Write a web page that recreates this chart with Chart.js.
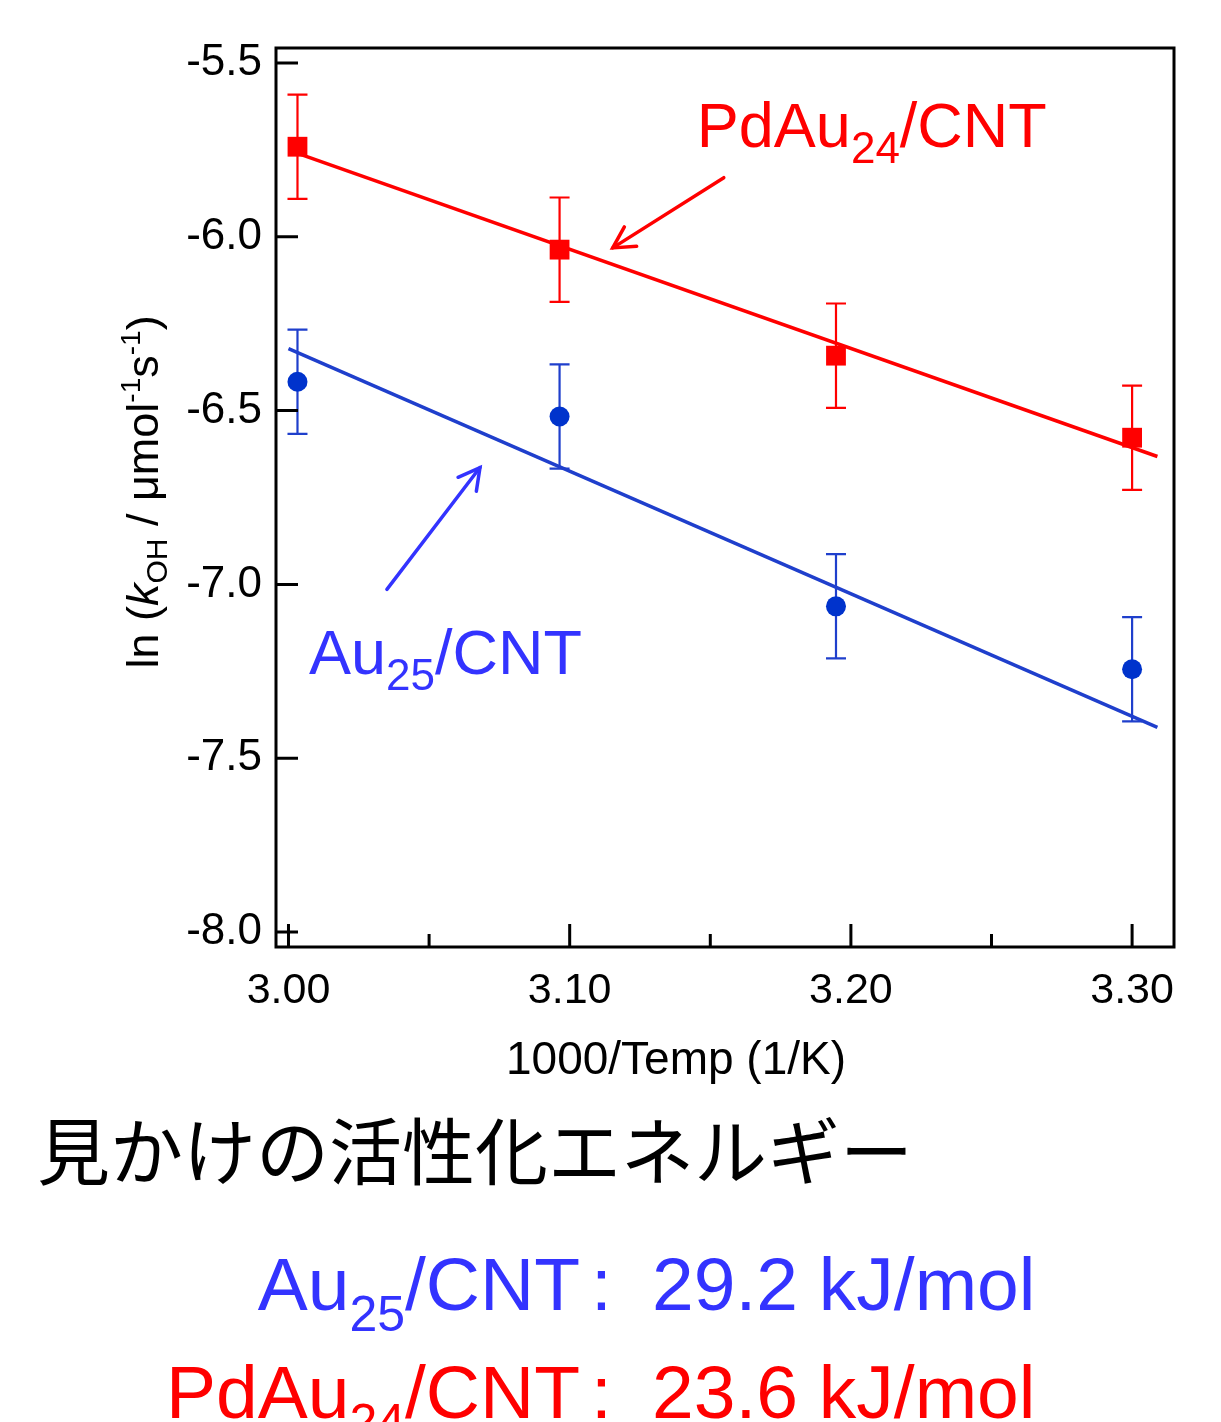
<!DOCTYPE html>
<html>
<head>
<meta charset="utf-8">
<script src="https://cdn.jsdelivr.net/npm/chart.js@4.4.1/dist/chart.umd.min.js"></script>
<style>
  html, body { margin:0; padding:0; background:#fff; }
  body { width:1221px; height:1422px; overflow:hidden; position:relative; }
  #wrap { position:absolute; left:0; top:0; width:1221px; height:1100px; }
  .t { position:absolute; white-space:nowrap; line-height:1; font-family:"Liberation Sans", Arial, sans-serif; }
  .jp { font-family:"Noto Sans CJK JP", sans-serif; font-size:73px; color:#000; left:37px; top:1111px; }
  .big { font-size:75px; }
  .sub { font-size:50px; position:relative; top:21px; }
  .blue { color:#3333ff; }
  .red { color:#ff0000; }
</style>
</head>
<body>
<div id="wrap"><canvas id="c" width="1221" height="1100"></canvas></div>

<div class="t jp">見かけの活性化エネルギー</div>

<div class="t big blue" style="right:641px; top:1247px;">Au<span class="sub">25</span>/CNT</div>
<div class="t big blue" style="left:591px; top:1247px;">:</div>
<div class="t big blue" style="left:652px; top:1247px;">29.2 kJ/mol</div>

<div class="t big red" style="right:641px; top:1355px;">PdAu<span class="sub">24</span>/CNT</div>
<div class="t big red" style="left:591px; top:1355px;">:</div>
<div class="t big red" style="left:652px; top:1355px;">23.6 kJ/mol</div>

<script>
// ---- data ----
const xTicks = [3.00, 3.10, 3.20, 3.30];
const xMinorTicks = [3.05, 3.15, 3.25];
const yTicks = [-5.5, -6.0, -6.5, -7.0, -7.5, -8.0];
const tempX = [3.0032, 3.0964, 3.1947, 3.30];
const pdAuY = [-5.741, -6.037, -6.342, -6.578];
const pdAuErr = [0.15, 0.15, 0.15, 0.15];
const au25Y = [-6.417, -6.517, -7.063, -7.244];
const au25Err = [0.15, 0.15, 0.15, 0.15];
const fitX = [3.00, 3.309];
const pdAuFitY = [-5.751, -6.632];
const au25FitY = [-6.322, -7.411];
const xTitle = '1000/Temp (1/K)';

const RED = '#ff0000';
const BLUE_PT = '#0033cc';
const BLUE_LN = '#1f3fcc';
const BLUE_TXT = '#3333ff';
const FONT = '"Liberation Sans", Arial, sans-serif';

const toPts = (xs, ys) => xs.map((x, i) => ({x, y: ys[i]}));

function drawRich(ctx, segs, x, y, color) {
  let cx = x;
  ctx.fillStyle = color;
  ctx.textAlign = 'left';
  ctx.textBaseline = 'alphabetic';
  for (const s of segs) {
    ctx.font = (s.italic ? 'italic ' : '') + s.size + 'px ' + FONT;
    ctx.fillText(s.t, cx, y + (s.dy || 0));
    cx += ctx.measureText(s.t).width;
  }
  return cx - x;
}
function richWidth(ctx, segs) {
  let w = 0;
  for (const s of segs) {
    ctx.font = (s.italic ? 'italic ' : '') + s.size + 'px ' + FONT;
    w += ctx.measureText(s.t).width;
  }
  return w;
}
function arrow(ctx, x1, y1, x2, y2, color) {
  ctx.save();
  ctx.strokeStyle = color;
  ctx.lineWidth = 3.5;
  ctx.lineCap = 'round';
  ctx.beginPath(); ctx.moveTo(x1, y1); ctx.lineTo(x2, y2); ctx.stroke();
  const a = Math.atan2(y1 - y2, x1 - x2);
  const L = 24, sp = 0.5;
  ctx.beginPath();
  ctx.moveTo(x2 + L * Math.cos(a + sp), y2 + L * Math.sin(a + sp));
  ctx.lineTo(x2, y2);
  ctx.lineTo(x2 + L * Math.cos(a - sp), y2 + L * Math.sin(a - sp));
  ctx.stroke();
  ctx.restore();
}

const errorBars = {
  id: 'errorBars',
  beforeDatasetsDraw(chart) {
    const {ctx, scales: {x, y}} = chart;
    const sets = [[pdAuY, pdAuErr, RED], [au25Y, au25Err, BLUE_LN]];
    ctx.save();
    for (const [ys, es, col] of sets) {
      ctx.strokeStyle = col;
      ctx.lineWidth = 2.2;
      ys.forEach((v, i) => {
        const px = x.getPixelForValue(tempX[i]);
        const pt = y.getPixelForValue(v + es[i]);
        const pb = y.getPixelForValue(v - es[i]);
        ctx.beginPath();
        ctx.moveTo(px, pt); ctx.lineTo(px, pb);
        ctx.moveTo(px - 10, pt); ctx.lineTo(px + 10, pt);
        ctx.moveTo(px - 10, pb); ctx.lineTo(px + 10, pb);
        ctx.stroke();
      });
    }
    ctx.restore();
  }
};

const frameAndAnno = {
  id: 'frameAndAnno',
  afterDraw(chart) {
    const {ctx, chartArea: ca, scales: {x, y}} = chart;
    ctx.save();
    // frame
    ctx.strokeStyle = '#000';
    ctx.lineWidth = 3;
    ctx.strokeRect(ca.left, ca.top, ca.right - ca.left, ca.bottom - ca.top);
    // inner ticks
    ctx.beginPath();
    yTicks.forEach(v => {
      const py = y.getPixelForValue(v);
      ctx.moveTo(ca.left, py); ctx.lineTo(ca.left + 22, py);
    });
    xTicks.forEach(v => {
      const px = x.getPixelForValue(v);
      ctx.moveTo(px, ca.bottom); ctx.lineTo(px, ca.bottom - 23);
    });
    xMinorTicks.forEach(v => {
      const px = x.getPixelForValue(v);
      ctx.moveTo(px, ca.bottom); ctx.lineTo(px, ca.bottom - 13);
    });
    ctx.stroke();

    // x axis title
    ctx.fillStyle = '#000';
    ctx.font = '46px ' + FONT;
    ctx.textAlign = 'center';
    ctx.textBaseline = 'alphabetic';
    ctx.fillText(xTitle, 676, 1074);

    // y axis title (rotated)
    const ySegs = [
      {t: 'ln (', size: 45}, {t: 'k', size: 45, italic: true}, {t: 'OH', size: 30, dy: 9},
      {t: ' / μmol', size: 45}, {t: '-1', size: 28, dy: -18}, {t: 's', size: 45},
      {t: '-1', size: 28, dy: -18}, {t: ')', size: 45}
    ];
    const w = richWidth(ctx, ySegs);
    ctx.save();
    ctx.translate(158, 492 + w / 2);
    ctx.rotate(-Math.PI / 2);
    drawRich(ctx, ySegs, 0, 0, '#000');
    ctx.restore();

    // annotations
    drawRich(ctx, [{t: 'PdAu', size: 63}, {t: '24', size: 44, dy: 16}, {t: '/CNT', size: 63}],
      x.getPixelForValue(3.1452), y.getPixelForValue(-5.741), RED);
    arrow(ctx, x.getPixelForValue(3.1548), y.getPixelForValue(-5.830),
      x.getPixelForValue(3.1153), y.getPixelForValue(-6.032), RED);
    drawRich(ctx, [{t: 'Au', size: 63}, {t: '25', size: 44, dy: 16}, {t: '/CNT', size: 63}],
      x.getPixelForValue(3.0073), y.getPixelForValue(-7.2586), BLUE_TXT);
    arrow(ctx, x.getPixelForValue(3.0350), y.getPixelForValue(-7.0144),
      x.getPixelForValue(3.0681), y.getPixelForValue(-6.6638), BLUE_TXT);
    ctx.restore();
  }
};

new Chart(document.getElementById('c'), {
  type: 'scatter',
  data: {
    datasets: [
      {data: toPts(tempX, pdAuY), pointStyle: 'rect', pointRadius: 14, backgroundColor: RED, borderColor: RED, borderWidth: 0},
      {data: toPts(tempX, au25Y), pointStyle: 'circle', pointRadius: 10, backgroundColor: BLUE_PT, borderColor: BLUE_PT, borderWidth: 0},
      {data: toPts(fitX, pdAuFitY), showLine: true, pointRadius: 0, borderColor: RED, borderWidth: 3.5},
      {data: toPts(fitX, au25FitY), showLine: true, pointRadius: 0, borderColor: BLUE_LN, borderWidth: 3.5}
    ]
  },
  options: {
    responsive: false,
    animation: false,
    devicePixelRatio: 1,
    layout: {padding: {left: 0, top: 48, right: 47, bottom: 0}},
    plugins: {legend: {display: false}, tooltip: {enabled: false}},
    scales: {
      x: {
        type: 'linear', min: 2.99556, max: 3.3149,
        grid: {display: false, drawTicks: false},
        border: {display: false},
        afterBuildTicks: s => { s.ticks = xTicks.map(v => ({value: v})); },
        afterFit: s => { s.height = 153; },
        ticks: {color: '#000', font: {size: 43, family: FONT}, padding: 18, maxRotation: 0,
          callback: v => Number(v).toFixed(2)},
        title: {display: false}
      },
      y: {
        type: 'linear', min: -8.043, max: -5.457,
        grid: {display: false, drawTicks: false},
        border: {display: false},
        afterBuildTicks: s => { s.ticks = yTicks.map(v => ({value: v})); },
        afterFit: s => { s.width = 276; },
        ticks: {color: '#000', font: {size: 44, family: FONT}, padding: 14,
          callback: v => Number(v).toFixed(1)}
      }
    }
  },
  plugins: [errorBars, frameAndAnno]
});
</script>
</body>
</html>
